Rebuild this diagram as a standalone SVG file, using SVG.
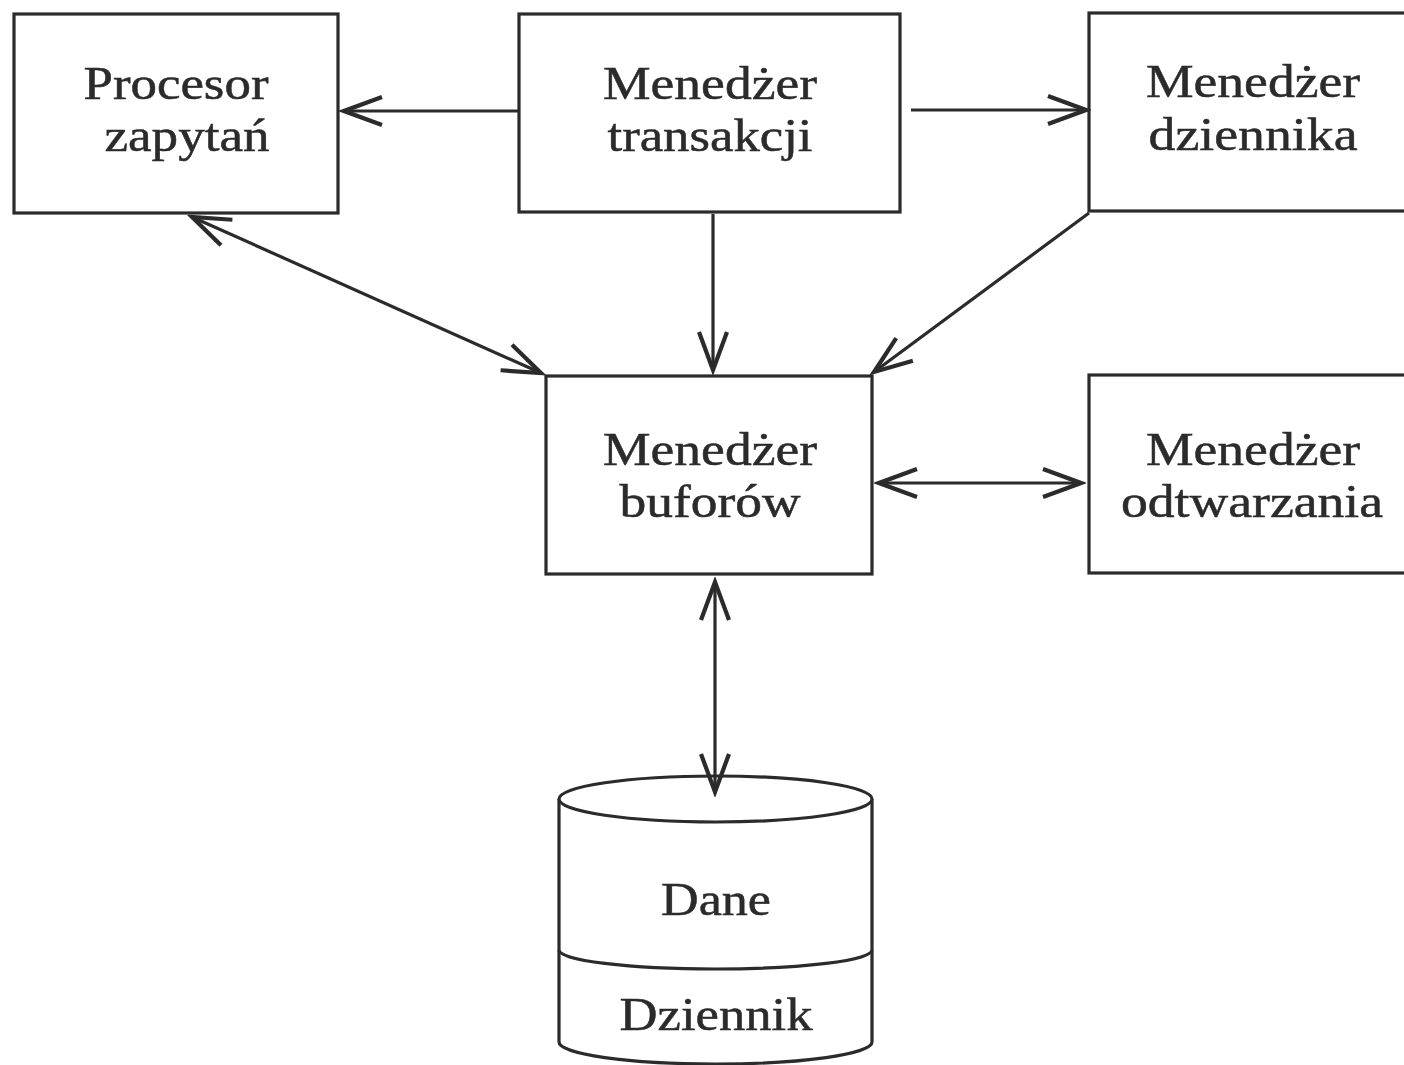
<svg xmlns="http://www.w3.org/2000/svg" width="1404" height="1065" viewBox="0 0 1404 1065">
<style>
.box{fill:#fff;stroke:#2b2b2b;stroke-width:3.2}
.t{font-family:"Liberation Serif","Times New Roman",serif;font-size:46px;fill:#2b2b2b;stroke:#2b2b2b;stroke-width:0.5;text-anchor:middle}
.c{fill:none;stroke:#2b2b2b;stroke-width:3.2}
</style>
<defs>
<marker id="ah" markerUnits="userSpaceOnUse" markerWidth="50" markerHeight="40" viewBox="-45 -20 50 40" refX="0" refY="0" orient="auto-start-reverse">
<path d="M-38,-14 L0,0 L-38,14" fill="none" stroke="#2b2b2b" stroke-width="4.2" stroke-linejoin="miter"/>
</marker>
</defs>
<rect width="1404" height="1065" fill="#fff"/>
<g id="procesor">
<rect class="box" x="14" y="14" width="324" height="199"/>
<text class="t" x="176" y="99" textLength="185" lengthAdjust="spacingAndGlyphs">Procesor</text>
<text class="t" x="187" y="151" textLength="165" lengthAdjust="spacingAndGlyphs">zapytań</text>
</g>
<g id="transakcji">
<rect class="box" x="519" y="14" width="381" height="198"/>
<text class="t" x="710" y="99" textLength="214" lengthAdjust="spacingAndGlyphs">Menedżer</text>
<text class="t" x="710" y="151" textLength="205" lengthAdjust="spacingAndGlyphs">transakcji</text>
</g>
<g id="dziennika">
<rect class="box" x="1089" y="13" width="330" height="198"/>
<text class="t" x="1253" y="97" textLength="214" lengthAdjust="spacingAndGlyphs">Menedżer</text>
<text class="t" x="1253" y="150" textLength="209" lengthAdjust="spacingAndGlyphs">dziennika</text>
</g>
<g id="buforow">
<rect class="box" x="546" y="376" width="326" height="198"/>
<text class="t" x="710" y="465" textLength="214" lengthAdjust="spacingAndGlyphs">Menedżer</text>
<text class="t" x="710" y="517" textLength="181" lengthAdjust="spacingAndGlyphs">buforów</text>
</g>
<g id="odtwarzania">
<rect class="box" x="1089" y="375" width="330" height="198"/>
<text class="t" x="1253" y="465" textLength="214" lengthAdjust="spacingAndGlyphs">Menedżer</text>
<text class="t" x="1252" y="517" textLength="262" lengthAdjust="spacingAndGlyphs">odtwarzania</text>
</g>
<g id="baza">
<path class="box" d="M559,799 L559,1042 A156.5,22 0 0 0 872,1042 L872,799"/>
<ellipse class="box" cx="715.5" cy="799" rx="156.5" ry="23"/>
<path class="c" d="M559,950 A156.5,19 0 0 0 872,950"/>
<text class="t" x="716" y="915" textLength="110" lengthAdjust="spacingAndGlyphs">Dane</text>
<text class="t" x="716" y="1030" textLength="193" lengthAdjust="spacingAndGlyphs">Dziennik</text>
</g>
<g id="connectors" class="c">
<line x1="519" y1="111" x2="344" y2="111" marker-end="url(#ah)"/>
<line x1="911" y1="110" x2="1086" y2="110" marker-end="url(#ah)"/>
<line x1="713" y1="214" x2="713" y2="370" marker-end="url(#ah)"/>
<line x1="192" y1="217" x2="541" y2="373" marker-start="url(#ah)" marker-end="url(#ah)"/>
<line x1="1089" y1="213" x2="874" y2="372" marker-end="url(#ah)"/>
<line x1="879" y1="483" x2="1081" y2="483" marker-start="url(#ah)" marker-end="url(#ah)"/>
<line x1="715" y1="582" x2="715" y2="792" marker-start="url(#ah)" marker-end="url(#ah)"/>
</g>
</svg>
